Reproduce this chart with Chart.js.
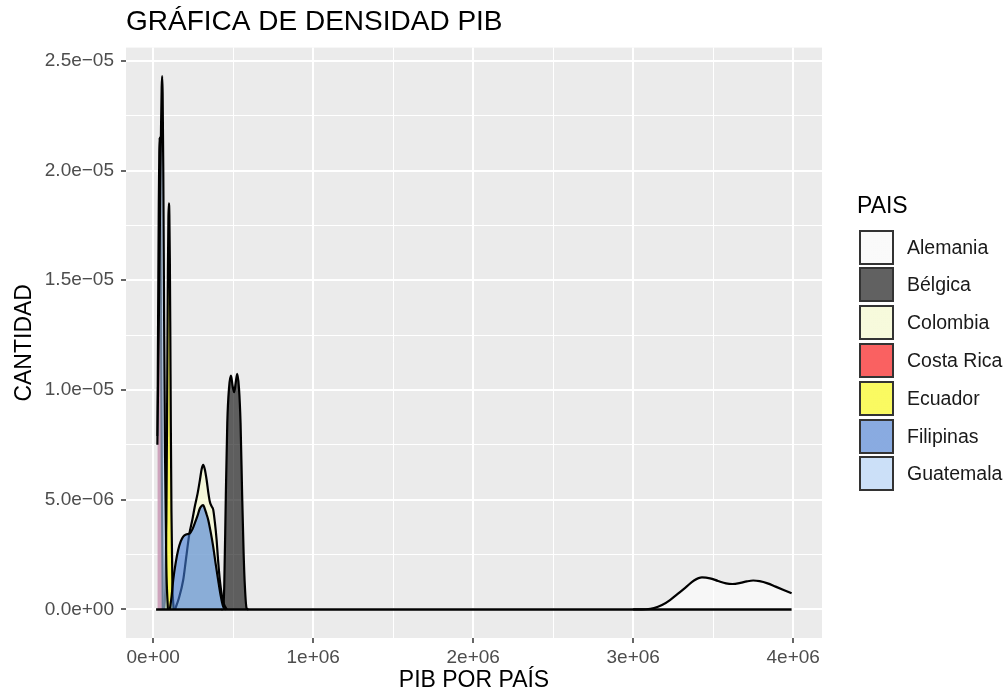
<!DOCTYPE html>
<html>
<head>
<meta charset="utf-8">
<script src="https://cdn.jsdelivr.net/npm/chart.js@4.4.1/dist/chart.umd.min.js"></script>
<style>
  html, body { margin: 0; padding: 0; background: #fff; overflow: hidden; }
  #wrap { position: relative; width: 1007px; height: 694px; font-family: "Liberation Sans", Arial, sans-serif; }
  #chart { position: absolute; left: 0; top: 0; }
  .ltitle { position: absolute; left: 857px; top: 194px; font-size: 23px; line-height: 23px; color: #000; }
  .lkey { position: absolute; left: 859px; width: 35px; height: 35px; box-sizing: border-box; border: 2px solid #333; }
  .llab { position: absolute; left: 907px; height: 35px; line-height: 35px; font-size: 19.5px; color: #1a1a1a; white-space: nowrap; }
</style>
</head>
<body>
<div id="wrap">
  <canvas id="chart" width="1007" height="694"></canvas>
  <div id="legend"></div>
</div>
<script>
// countries, in ggplot drawing order
const countries = ["Alemania", "Bélgica", "Colombia", "Costa Rica", "Ecuador", "Filipinas", "Guatemala"];

// density curves (x = PIB, y = density)
const alemaniaX = [3.00e6, 3.08e6, 3.13e6, 3.18e6, 3.23e6, 3.28e6, 3.33e6, 3.38e6, 3.43e6, 3.48e6, 3.53e6, 3.58e6, 3.62e6, 3.67e6, 3.71e6, 3.75e6, 3.79e6, 3.84e6, 3.89e6, 3.94e6, 3.99e6];
const alemaniaY = [0.00e-6, 0.01e-6, 0.06e-6, 0.20e-6, 0.43e-6, 0.72e-6, 1.02e-6, 1.32e-6, 1.46e-6, 1.42e-6, 1.30e-6, 1.19e-6, 1.16e-6, 1.21e-6, 1.28e-6, 1.32e-6, 1.29e-6, 1.19e-6, 1.04e-6, 0.89e-6, 0.74e-6];

const belgicaX = [0.425e6, 0.437e6, 0.444e6, 0.454e6, 0.463e6, 0.474e6, 0.486e6, 0.496e6, 0.506e6, 0.515e6, 0.525e6, 0.536e6, 0.546e6, 0.556e6, 0.565e6, 0.573e6, 0.584e6, 0.595e6];
const belgicaY = [0, 0.05e-6, 1.05e-6, 5.2e-6, 8.5e-6, 10.1e-6, 10.65e-6, 10.2e-6, 9.9e-6, 10.3e-6, 10.73e-6, 10.1e-6, 8.5e-6, 5.2e-6, 2.6e-6, 1.05e-6, 0.05e-6, 0];

const colombiaX = [0.136e6, 0.160e6, 0.1875e6, 0.205e6, 0.225e6, 0.245e6, 0.260e6, 0.278e6, 0.292e6, 0.303e6, 0.3125e6, 0.322e6, 0.334e6, 0.344e6, 0.354e6, 0.365e6, 0.375e6, 0.386e6, 0.396e6, 0.406e6, 0.417e6, 0.430e6, 0.442e6, 0.460e6];
const colombiaY = [0, 0.5e-6, 1.34e-6, 2.3e-6, 3.4e-6, 4.1e-6, 4.69e-6, 5.3e-6, 5.9e-6, 6.4e-6, 6.59e-6, 6.4e-6, 5.9e-6, 5.35e-6, 4.91e-6, 4.7e-6, 4.55e-6, 3.93e-6, 3.2e-6, 2.2e-6, 1.3e-6, 0.6e-6, 0.25e-6, 0];

const costaRicaX = [0.027e6, 0.029e6, 0.032e6, 0.035e6, 0.038e6, 0.040e6, 0.042e6, 0.045e6, 0.049e6, 0.054e6, 0.060e6];
const costaRicaY = [0.79e-5, 1.1e-5, 1.5e-5, 1.85e-5, 2.08e-5, 2.15e-5, 2.08e-5, 1.8e-5, 1.3e-5, 0.6e-5, 0];

const ecuadorX = [0.068e6, 0.076e6, 0.082e6, 0.086e6, 0.089e6, 0.092e6, 0.095e6, 0.098e6, 0.101e6, 0.104e6, 0.107e6, 0.110e6, 0.114e6, 0.120e6, 0.128e6];
const ecuadorY = [0, 0.1e-5, 0.4e-5, 0.8e-5, 1.2e-5, 1.55e-5, 1.78e-5, 1.85e-5, 1.8e-5, 1.6e-5, 1.25e-5, 0.85e-5, 0.45e-5, 0.12e-5, 0];

const filipinasX = [0.104e6, 0.115e6, 0.125e6, 0.140e6, 0.156e6, 0.172e6, 0.1875e6, 0.205e6, 0.229e6, 0.245e6, 0.260e6, 0.276e6, 0.292e6, 0.303e6, 0.3125e6, 0.322e6, 0.333e6, 0.344e6, 0.360e6, 0.375e6, 0.390e6, 0.406e6, 0.420e6, 0.4375e6, 0.459e6];
const filipinasY = [0, 0.6e-6, 1.34e-6, 2.1e-6, 2.71e-6, 3.1e-6, 3.32e-6, 3.42e-6, 3.47e-6, 3.65e-6, 3.93e-6, 4.25e-6, 4.61e-6, 4.72e-6, 4.76e-6, 4.6e-6, 4.35e-6, 4.08e-6, 3.5e-6, 2.86e-6, 2.1e-6, 1.34e-6, 0.7e-6, 0.13e-6, 0];

const guatemalaX = [0.026e6, 0.031e6, 0.038e6, 0.044e6, 0.049e6, 0.053e6, 0.056e6, 0.059e6, 0.063e6, 0.068e6, 0.074e6, 0.082e6, 0.092e6];
const guatemalaY = [0.75e-5, 1.05e-5, 1.5e-5, 1.9e-5, 2.2e-5, 2.38e-5, 2.43e-5, 2.35e-5, 2.0e-5, 1.35e-5, 0.7e-5, 0.2e-5, 0];

// zero line running along the bottom of the curves
const baselineX = [0.018e6, 3.99e6];
const baselineY = [0, 0];

// axes
const xTickValues = [0, 1e6, 2e6, 3e6, 4e6];
const xTickLabels = ["0e+00", "1e+06", "2e+06", "3e+06", "4e+06"];
const xMinorValues = [0.5e6, 1.5e6, 2.5e6, 3.5e6];
const yTickValues = [0, 5e-6, 1e-5, 1.5e-5, 2e-5, 2.5e-5];
const yTickLabels = ["0.0e+00", "5.0e\u221206", "1.0e\u221205", "1.5e\u221205", "2.0e\u221205", "2.5e\u221205"];
const yMinorValues = [2.5e-6, 7.5e-6, 1.25e-5, 1.75e-5, 2.25e-5];

const curveX = [alemaniaX, belgicaX, colombiaX, costaRicaX, ecuadorX, filipinasX, guatemalaX];
const curveY = [alemaniaY, belgicaY, colombiaY, costaRicaY, ecuadorY, filipinasY, guatemalaY];

// fills (alpha 0.6 like the ggplot fills)
const fillColors = [
    "rgba(255,255,255,0.6)",
    "rgba(0,0,0,0.6)",
    "rgba(250,255,205,0.6)",
    "rgba(255,0,0,0.6)",
    "rgba(255,255,0,0.6)",
    "rgba(67,123,213,0.6)",
    "rgba(178,212,252,0.6)"
];

const FONT = "'Liberation Sans', Arial, sans-serif";

function toPoints(xs, ys) {
    return xs.map((x, i) => ({ x: x, y: ys[i] }));
}

const datasets = countries.map((name, i) => ({
    label: name,
    data: toPoints(curveX[i], curveY[i]),
    borderColor: "#000",
    borderWidth: 2.2,
    backgroundColor: fillColors[i],
    fill: "origin",
    pointRadius: 0,
    cubicInterpolationMode: "monotone",
    order: countries.length - i
}));

datasets.push({
    label: "",
    data: toPoints(baselineX, baselineY),
    borderColor: "#000",
    borderWidth: 2.5,
    fill: false,
    pointRadius: 0,
    order: 0
});

// panel background
const panelBg = {
    id: "panelBg",
    beforeDraw(chart) {
        const a = chart.chartArea;
        const ctx = chart.ctx;
        ctx.save();
        ctx.fillStyle = "#EBEBEB";
        ctx.fillRect(a.left, a.top, a.right - a.left, a.bottom - a.top);
        ctx.restore();
    }
};

function gridOpts(majors) {
    const isMajor = v => majors.indexOf(v) >= 0;
    return {
        color: "#FFFFFF",
        lineWidth: ctx => (ctx.tick && isMajor(ctx.tick.value)) ? 2 : 1,
        tickColor: ctx => (ctx.tick && isMajor(ctx.tick.value)) ? "#333333" : "rgba(0,0,0,0)",
        tickLength: 5,
        tickWidth: 1.5,
        drawTicks: true
    };
}

new Chart(document.getElementById("chart"), {
    type: "line",
    data: { datasets: datasets },
    options: {
        responsive: false,
        animation: false,
        events: [],
        layout: { padding: { left: 0, right: 185, top: 0, bottom: 0 } },
        plugins: {
            legend: { display: false },
            tooltip: { enabled: false },
            title: {
                display: true,
                text: "GRÁFICA DE DENSIDAD PIB",
                align: "start",
                fullSize: false,
                color: "#000",
                font: { family: FONT, size: 28, weight: "normal" },
                padding: { top: 5, bottom: 9 }
            }
        },
        scales: {
            x: {
                type: "linear",
                min: -1.7e5,
                max: 4.18e6,
                bounds: "data",
                afterBuildTicks: s => { s.ticks = xTickValues.concat(xMinorValues).sort((a, b) => a - b).map(v => ({ value: v })); },
                afterFit: s => { s.height = 56; },
                border: { display: false },
                grid: gridOpts(xTickValues),
                ticks: {
                    autoSkip: false,
                    maxRotation: 0,
                    padding: 3,
                    color: "#4D4D4D",
                    font: { family: FONT, size: 19 },
                    callback: v => { const k = xTickValues.indexOf(v); return k >= 0 ? xTickLabels[k] : ""; }
                },
                title: {
                    display: true,
                    text: "PIB POR PAÍS",
                    color: "#000",
                    font: { family: FONT, size: 23, lineHeight: 1.15 },
                    padding: { top: 0, bottom: 0 }
                }
            },
            y: {
                type: "linear",
                min: -1.3e-6,
                max: 2.56e-5,
                bounds: "data",
                afterBuildTicks: s => { s.ticks = yTickValues.concat(yMinorValues).sort((a, b) => a - b).map(v => ({ value: v })); },
                afterFit: s => { s.width = 126; },
                border: { display: false },
                grid: gridOpts(yTickValues),
                ticks: {
                    autoSkip: false,
                    padding: 7,
                    color: "#4D4D4D",
                    font: { family: FONT, size: 19 },
                    callback: v => { const k = yTickValues.indexOf(v); return k >= 0 ? yTickLabels[k] : ""; }
                },
                title: {
                    display: true,
                    text: "CANTIDAD",
                    color: "#000",
                    font: { family: FONT, size: 23, lineHeight: 1.2 },
                    padding: { top: 11, bottom: 0 }
                }
            }
        }
    },
    plugins: [panelBg]
});

// legend, built from the same country list and fills
const legend = document.getElementById("legend");
const lt = document.createElement("div");
lt.className = "ltitle";
lt.textContent = "PAIS";
legend.appendChild(lt);
countries.forEach((name, i) => {
    const top = 229.5 + i * 37.8;
    const key = document.createElement("div");
    key.className = "lkey";
    key.style.top = top + "px";
    key.style.background = "linear-gradient(" + fillColors[i] + "," + fillColors[i] + "), #F2F2F2";
    legend.appendChild(key);
    const lab = document.createElement("div");
    lab.className = "llab";
    lab.style.top = top + "px";
    lab.textContent = name;
    legend.appendChild(lab);
});
</script>
</body>
</html>
